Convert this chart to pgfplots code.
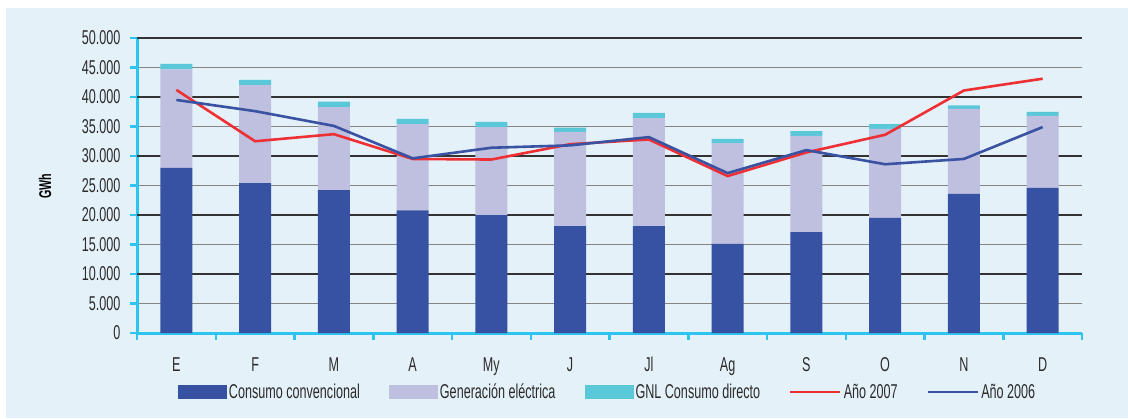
\documentclass[border=0pt]{standalone}
\usepackage{pgfplots}
\pgfplotsset{compat=1.18}
\usepackage{pgfplotstable}
\usepackage{fontspec}
\setmainfont{Liberation Sans}[FakeStretch=0.63]
\definecolor{bg}{HTML}{E4F1F9}
\definecolor{conv}{HTML}{3752A3}
\definecolor{gen}{HTML}{BFBFDF}
\definecolor{gnl}{HTML}{5BC8DA}
\definecolor{r07}{HTML}{EE3035}
\definecolor{b06}{HTML}{3A52A2}
\definecolor{axc}{HTML}{2EC4F0}
\definecolor{txt}{HTML}{2B2B2B}
\definecolor{gridd}{HTML}{333333}
\definecolor{gridl}{HTML}{858585}

\pgfplotstableread{
x conv gen gnl
0 28000 16700 900
1 25400 16600 900
2 24200 14100 900
3 20800 14600 900
4 20000 14900 900
5 18100 16000 700
6 18100 18300 900
7 15100 17100 700
8 17100 16300 800
9 19500 15100 800
10 23600 14400 600
11 24600 12200 700
}\bars

\pgfplotstableread{
x a2007 a2006
0 41200 39500
1 32500 37600
2 33700 35100
3 29500 29600
4 29400 31400
5 32000 31800
6 32800 33200
7 26600 27100
8 30600 31000
9 33600 28600
10 41100 29500
11 43100 34900
}\lines

\begin{document}
\begin{tikzpicture}[x=1pt,y=1pt]
\path[use as bounding box] (0,0) rectangle (1128,418);
\fill[bg] (6,0) rectangle (1128,410);
\begin{axis}[
  at={(137pt,85pt)}, anchor=south west,
  scale only axis, width=945pt, height=295pt,
  xmin=-0.5, xmax=11.5, ymin=0, ymax=50000,
  ybar stacked, bar width=32pt,
  axis x line*=bottom, axis y line*=left,
  axis line style={axc, line width=3pt},
  tick align=outside, major tick length=7pt,
  tick style={axc, line width=2.5pt},
  ytick={0,5000,...,50000},
  /pgf/number format/.cd, 1000 sep={.}, assume math mode=true, /pgfplots/.cd,
  scaled y ticks=false,
  ymajorgrids, major grid style={gridl, line width=1.8pt},
  extra y ticks={10000,20000,30000,40000,50000},
  extra y tick labels={},
  extra y tick style={grid=major, major grid style={gridd, line width=1.2pt}},
  xtick={-0.5,0.5,...,11.5}, xticklabels={},
  extra x ticks={0,1,2,3,4,5,6,7,8,9,10,11},
  extra x tick labels={E,F,M,A,My,J,Jl,Ag,S,O,N,D},
  extra x tick style={major tick length=0pt, xticklabel style={anchor=base, yshift=-38pt}},
  tick label style={font=\fontsize{20}{22}\selectfont, color=txt},
  yticklabel style={xshift=-6pt},
  ylabel={\bfseries GWh},
  ylabel style={at={(axis description cs:-0.0974,0.498)}, anchor=center, font=\fontsize{17}{19}\selectfont, color=black},
  legend style={at={(0.498,-0.2)}, anchor=center, draw=none, fill=none,
    legend columns=5, font=\fontsize{20}{22}\selectfont, text=txt,
    /tikz/every even column/.append style={column sep=27pt}},
]
\addplot[fill=conv, draw=none, legend image code/.code={\fill[conv] (0pt,-6.5pt) rectangle (49pt,6.5pt);}] table[x=x, y=conv] {\bars};
\addlegendentry{Consumo convencional}
\addplot[fill=gen, draw=none, legend image code/.code={\fill[gen] (0pt,-6.5pt) rectangle (49pt,6.5pt);}] table[x=x, y=gen] {\bars};
\addlegendentry{Generación eléctrica}
\addplot[fill=gnl, draw=none, legend image code/.code={\fill[gnl] (0pt,-6.5pt) rectangle (49pt,6.5pt);}] table[x=x, y=gnl] {\bars};
\addlegendentry{GNL Consumo directo}
\addlegendimage{legend image code/.code={\draw[r07, line width=2.6pt] (0pt,0pt) -- (50pt,0pt);}}
\addlegendentry{Año 2007}
\addlegendimage{legend image code/.code={\draw[b06, line width=2.6pt] (0pt,0pt) -- (50pt,0pt);}}
\addlegendentry{Año 2006}
\end{axis}
\begin{axis}[
  at={(137pt,85pt)}, anchor=south west,
  scale only axis, width=945pt, height=295pt,
  xmin=-0.5, xmax=11.5, ymin=0, ymax=50000,
  hide axis,
]
\addplot[r07, line width=2.6pt, no markers, sharp plot] table[x=x, y=a2007] {\lines};
\addplot[b06, line width=2.6pt, no markers, sharp plot] table[x=x, y=a2006] {\lines};
\end{axis}
\end{tikzpicture}
\end{document}
